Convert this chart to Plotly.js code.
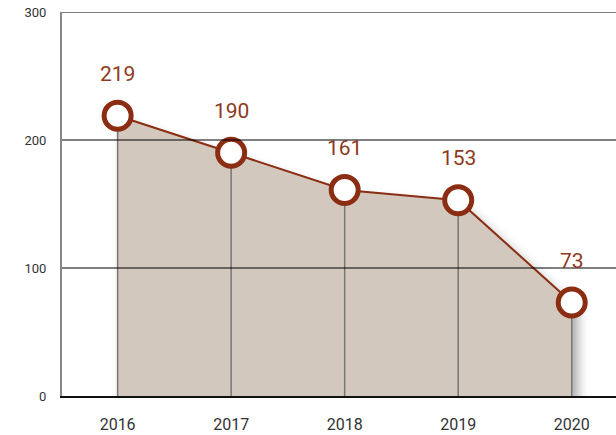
<!DOCTYPE html>
<html>
<head>
<meta charset="utf-8">
<script src="https://cdn.plot.ly/plotly-3.0.1.min.js"></script>
<style>
  body { margin: 0; background: #fff; }
  #chart { width: 616px; height: 435px; }
</style>
</head>
<body>
<div id="chart"></div>
<script>
const years = [2016, 2017, 2018, 2019, 2020];
const values = [219, 190, 161, 153, 73];
const yTicks = [0, 100, 200, 300];
const gridLevels = [100, 200, 300];

const brown = '#8a2d12';

// filled area + drop lines to the axis
var fillTrace = {
  x: years,
  y: values,
  type: 'scatter',
  mode: 'none',
  fill: 'tozeroy',
  fillcolor: '#d2c8bd',
  hoverinfo: 'skip',
  error_y: {
    type: 'data',
    symmetric: false,
    array: values.map(() => 0),
    arrayminus: values,
    width: 0,
    thickness: 1.5,
    color: '#777777'
  }
};

var lineTrace = {
  x: years,
  y: values,
  type: 'scatter',
  mode: 'lines+markers',
  line: { color: brown, width: 2 },
  marker: {
    size: 27,
    color: '#ffffff',
    line: { color: brown, width: 5 }
  }
};

var labels = years.map((yr, i) => ({
  x: yr,
  y: values[i],
  text: String(values[i]),
  showarrow: false,
  yshift: 42,
  font: { family: 'Roboto, sans-serif', size: 21, color: '#8e3a20' }
}));

var grid = gridLevels.map(v => ({
  type: 'line',
  xref: 'paper', x0: 0, x1: 1,
  yref: 'y', y0: v, y1: v,
  line: { color: '#000000', width: 1 },
  layer: 'above'
}));

var layout = {
  width: 616,
  height: 435,
  margin: { l: 62, r: 0, t: 12, b: 39 },
  paper_bgcolor: '#ffffff',
  plot_bgcolor: '#ffffff',
  showlegend: false,
  font: { family: 'Roboto, sans-serif', color: '#333333' },
  xaxis: {
    range: [2015.51, 2020.39],
    tickvals: years,
    ticktext: years.map(String),
    showgrid: false,
    zeroline: false,
    showline: true,
    linecolor: '#111111',
    linewidth: 1.5,
    ticks: 'outside',
    ticklen: 13,
    tickcolor: 'rgba(0,0,0,0)',
    tickfont: { size: 16, color: '#333333' }
  },
  yaxis: {
    range: [0, 300],
    tickvals: yTicks,
    showgrid: false,
    zeroline: false,
    showline: true,
    linecolor: '#888888',
    linewidth: 2,
    ticks: 'outside',
    ticklen: 11,
    tickcolor: 'rgba(0,0,0,0)',
    tickfont: { size: 13, color: '#333333' }
  },
  shapes: grid,
  annotations: labels
};

Plotly.newPlot('chart', [fillTrace, lineTrace], layout, { displayModeBar: false, staticPlot: true }).then(() => {
  // soft shadow under the filled area
  document.querySelectorAll('#chart .js-fill').forEach(p => {
    p.style.filter = 'drop-shadow(6px 8px 6px rgba(0,0,0,0.35))';
  });
});
</script>
</body>
</html>
